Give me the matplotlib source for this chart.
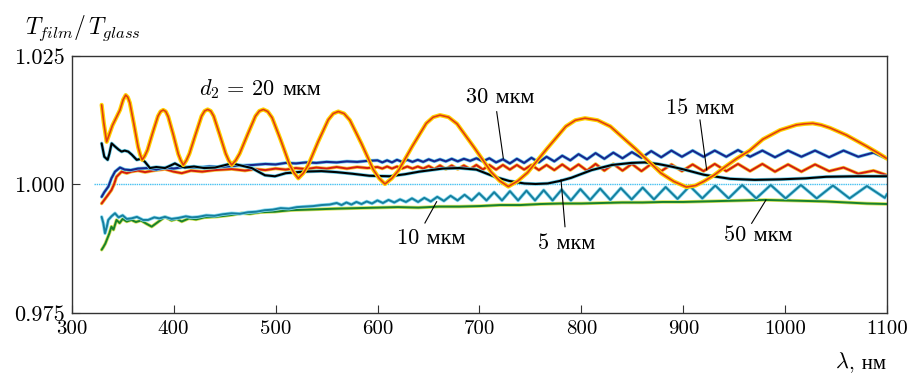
import matplotlib
matplotlib.use("Agg")
import matplotlib.pyplot as plt

plt.rcParams['font.family'] = ['cmr10', 'Liberation Serif', 'DejaVu Serif']
plt.rcParams['mathtext.fontset'] = 'cm'
plt.rcParams['axes.formatter.use_mathtext'] = True

# ---------------- data ----------------
x_ticks = [300, 400, 500, 600, 700, 800, 900, 1000, 1100]
x_tick_labels = ['300', '400', '500', '600', '700', '800', '900', '1000', '1100']
y_ticks = [0.975, 1.000, 1.025]
y_tick_labels = ['0.975', '1.000', '1.025']

baseline_wl = [322, 1100]
baseline_val = [1.0, 1.0]

# d2 = 20 um (orange)
orange_wl = [329.4, 331.5, 334.3, 340, 347.4, 350.5, 353,
             355.0, 357.05, 361.1, 365.15, 367.2, 369.2,
             371.8, 374.35, 379.5, 384.65, 387.2, 389.8,
             392.3, 394.7, 399.65, 404.6, 407.0, 409.5,
             412.5, 415.5, 421.45, 427.4, 430.4, 433.4,
             436.4, 439.3, 445.2, 451.1, 454.0, 457,
             460.9, 464.75, 472.5, 480.25, 484.1, 488,
             492.3, 496.6, 505.15, 513.7, 518.0, 522.3,
             527.2, 532.1, 541.9, 551.7, 556.6, 561.5,
             567.2, 572.95, 584.4, 595.85, 601.6, 607.3,
             614.1, 620.8, 634.3, 647.8, 654.6, 661.3,
             669.7, 678.05, 694.8, 711.55, 719.9, 728.3,
             737.7, 747.1, 765.9, 784.7, 794.1, 803.5,
             815.9, 828.4, 853.25, 878.1, 890.6, 903,
             912, 920, 930, 940, 952, 965, 978, 995, 1011, 1019, 1027, 1035,
             1044, 1060, 1080, 1092, 1100]
orange_val = [1.0155, 1.0120, 1.0083, 1.0115, 1.0145, 1.0165, 1.0174,
              1.0170, 1.0159, 1.0117, 1.0073, 1.0058, 1.0048,
              1.0056, 1.0067, 1.0101, 1.0133, 1.0142, 1.0145,
              1.0142, 1.0132, 1.0097, 1.0059, 1.0047, 1.0038,
              1.0047, 1.0060, 1.0097, 1.0133, 1.0143, 1.0146,
              1.0143, 1.0133, 1.0097, 1.0060, 1.0047, 1.0038,
              1.0047, 1.0060, 1.0097, 1.0133, 1.0143, 1.0146,
              1.0142, 1.0130, 1.0086, 1.0039, 1.0023, 1.0012,
              1.0022, 1.0038, 1.0084, 1.0126, 1.0138, 1.0142,
              1.0138, 1.0125, 1.0079, 1.0029, 1.0012, 1.0001,
              1.0012, 1.0028, 1.0075, 1.0119, 1.0131, 1.0135,
              1.0131, 1.0118, 1.0072, 1.0024, 1.0007, 0.9996,
              1.0007, 1.0023, 1.0069, 1.0113, 1.0125, 1.0129,
              1.0125, 1.0113, 1.0069, 1.0022, 1.0006, 0.9995,
              0.9998, 1.0006, 1.0018, 1.0033, 1.0050, 1.0066, 1.0088, 1.0106, 1.0116,
              1.0118, 1.0119, 1.0116,
              1.0110, 1.0096, 1.0074, 1.0060, 1.0050]

# 5 um (black)
black_wl = [329.4, 332, 335.3, 337, 339.2, 342.5, 346, 349, 352, 355.5, 359, 363.8,
            368, 371.9, 376.8, 383, 391.5, 396, 401.3, 406, 411, 420, 430, 440.6,
            449, 457, 466, 476.6, 483, 489.6, 499.4, 510, 527, 545, 560, 575, 592,
            612, 627, 641, 664, 680, 697, 706, 715, 729, 744, 755, 767, 779, 790,
            810, 830, 849, 862, 875, 888, 901, 920, 946, 970, 995, 1020, 1040,
            1070, 1100]
black_val = [1.0080, 1.0054, 1.0048, 1.0060, 1.0080, 1.0074, 1.0068, 1.0064, 1.0066,
             1.0064, 1.0058, 1.0048, 1.0050, 1.0044, 1.0032, 1.0034, 1.0032, 1.0036,
             1.0041, 1.0036, 1.0033, 1.0035, 1.0032, 1.0033, 1.0037, 1.0041, 1.0037,
             1.0032, 1.0025, 1.0018, 1.0016, 1.0022, 1.0025, 1.0026, 1.0024, 1.0021,
             1.0017, 1.0016, 1.0020, 1.0025, 1.0031, 1.0032, 1.0029, 1.0022, 1.0015,
             1.0007, 1.0002, 1.0001, 1.0002, 1.0007, 1.0013, 1.0028, 1.0038, 1.0042,
             1.0043, 1.0040, 1.0035, 1.0029, 1.0019, 1.0011, 1.0009, 1.0010, 1.0012,
             1.0015, 1.0016, 1.0016]

# shared fringe positions for the 30 um and 15 um curves
fringe_wl = [600, 604.7, 609.4, 614.2, 619.1, 624.1, 629.2, 634.3, 639.5, 644.8,
             650.2, 655.7, 661.3, 667, 672.8, 678.7, 684.7, 690.8, 697, 703.3,
             709.7, 716.3, 723, 729.8, 736.7, 743.8, 751, 758.3, 765.8, 773.4,
             781.2, 789.1, 797.2, 805.5, 813.9, 822.5, 831.3, 840.3, 849.5, 858.9,
             868.5, 878.3, 888.3, 898.6, 909.1, 919.8, 930.8, 942.1, 953.6, 965.4,
             977.5, 989.9, 1002.7, 1015.8, 1029.2, 1043, 1057.1, 1071.6, 1086.5, 1100]

# 30 um (blue)
blue_early_wl = [329.4, 332, 336, 339, 342.5, 347.4, 352, 358, 365, 375, 383, 391.5,
                 400, 410, 424, 435, 446, 457, 468, 478, 490, 500, 510, 520, 530,
                 540, 550, 560, 570, 580, 590]
blue_early_val = [0.9976, 0.9985, 0.9996, 1.0012, 1.0025, 1.0033, 1.0029, 1.0028,
                  1.0031, 1.0032, 1.0029, 1.0033, 1.0031, 1.0034, 1.0033, 1.0035,
                  1.0034, 1.0036, 1.0037, 1.0038, 1.0040, 1.0039, 1.0042, 1.0041,
                  1.0043, 1.0042, 1.0044, 1.0043, 1.0045, 1.0044, 1.0046]
blue_fringe_val = [1.0047, 1.0043, 1.0047, 1.0043, 1.0048, 1.0044, 1.0048, 1.0044,
                   1.0048, 1.0044, 1.0049, 1.0045, 1.0049, 1.0045, 1.0050, 1.0045,
                   1.0050, 1.0046, 1.0051, 1.0045, 1.0051, 1.0043, 1.0049, 1.0041,
                   1.0050, 1.0042, 1.0052, 1.0043, 1.0054, 1.0045, 1.0056, 1.0047,
                   1.0059, 1.0049, 1.0061, 1.0050, 1.0062, 1.0051, 1.0063, 1.0052,
                   1.0065, 1.0053, 1.0066, 1.0054, 1.0066, 1.0054, 1.0066, 1.0054,
                   1.0067, 1.0054, 1.0066, 1.0053, 1.0066, 1.0054, 1.0066, 1.0053,
                   1.0066, 1.0054, 1.0062, 1.0050]

# 15 um (red)
red_early_wl = [329.4, 332, 335, 339, 341.5, 344, 347, 349, 354, 358.6, 365, 372,
                380, 391.5, 400, 408, 417, 428, 440, 457, 470, 480, 490, 500, 510,
                520, 530, 540, 550, 560, 570, 580, 590]
red_early_val = [0.9963, 0.9970, 0.9978, 0.9989, 1.0000, 1.0015, 1.0021, 1.0025,
                 1.0022, 1.0025, 1.0027, 1.0024, 1.0027, 1.0030, 1.0025, 1.0022,
                 1.0027, 1.0025, 1.0028, 1.0030, 1.0027, 1.0030, 1.0028, 1.0031,
                 1.0029, 1.0032, 1.0030, 1.0033, 1.0031, 1.0034, 1.0031, 1.0034,
                 1.0032]
red_fringe_val = [1.0034, 1.0031, 1.0035, 1.0031, 1.0035, 1.0031, 1.0035, 1.0031,
                  1.0035, 1.0031, 1.0036, 1.0030, 1.0037, 1.0030, 1.0037, 1.0030,
                  1.0037, 1.0030, 1.0038, 1.0029, 1.0038, 1.0029, 1.0038, 1.0029,
                  1.0038, 1.0029, 1.0038, 1.0028, 1.0038, 1.0028, 1.0039, 1.0028,
                  1.0039, 1.0027, 1.0040, 1.0027, 1.0040, 1.0027, 1.0040, 1.0026,
                  1.0040, 1.0026, 1.0039, 1.0026, 1.0039, 1.0026, 1.0040, 1.0026,
                  1.0040, 1.0026, 1.0040, 1.0025, 1.0039, 1.0025, 1.0039, 1.0026,
                  1.0033, 1.0021, 1.0027, 1.0018]

# 10 um (teal)
teal_wl = [329.4, 331, 332.7, 334.5, 335.9, 339, 342.5, 346, 350, 354, 358.6, 364,
           370, 375, 381, 386, 391.5, 398, 405, 412, 418, 424.2, 432, 440, 448,
           456.9, 465, 473, 481, 489.6, 497, 505, 513, 521, 529, 537, 545, 553,
           560, 564.7, 569.5, 574.4, 579.3, 584.3, 589.4, 594.6, 599.9, 605.3,
           610.8, 616.4, 622.1, 627.9, 633.8, 639.8, 645.9, 652.2, 658.6, 665.1,
           671.7, 678.5, 685.4, 692.4, 699.6, 706.9, 714.4, 722.1, 729.9, 737.9,
           746.1, 754.5, 763, 771.7, 780.6, 789.7, 799, 808.6, 818.4, 828.4,
           838.7, 849.3, 860.1, 871.2, 882.6, 894.3, 906.3, 918.6, 931.3, 944.3,
           957.7, 971.5, 985.7, 1000.3, 1015.3, 1030.8, 1046.7, 1063.1, 1080.1,
           1097.6, 1100]
teal_val = [0.9937, 0.9925, 0.9905, 0.9918, 0.9931, 0.9938, 0.9944, 0.9936, 0.9940,
            0.9933, 0.9934, 0.9937, 0.9931, 0.9931, 0.9936, 0.9934, 0.9937, 0.9933,
            0.9935, 0.9938, 0.9936, 0.9937, 0.9940, 0.9939, 0.9942, 0.9944, 0.9943,
            0.9946, 0.9947, 0.9950, 0.9951, 0.9954, 0.9953, 0.9956, 0.9957, 0.9958,
            0.9960, 0.9961,
            0.9964, 0.9960, 0.9965, 0.9961, 0.9966, 0.9962, 0.9967, 0.9963, 0.9969,
            0.9964, 0.9970, 0.9965, 0.9971, 0.9966, 0.9973, 0.9966, 0.9974, 0.9967,
            0.9976, 0.9968, 0.9978, 0.9969, 0.9980, 0.9969, 0.9983, 0.9969, 0.9985,
            0.9969, 0.9987, 0.9969, 0.9988, 0.9969, 0.9989, 0.9969, 0.9990, 0.9969,
            0.9991, 0.9970, 0.9992, 0.9970, 0.9993, 0.9971, 0.9994, 0.9971, 0.9995,
            0.9972, 0.9997, 0.9973, 0.9998, 0.9973, 0.9999, 0.9973, 0.9999, 0.9973,
            0.9999, 0.9973, 0.9998, 0.9973, 0.9997, 0.9974, 0.9982]

# 50 um (green)
green_wl = [329.4, 331, 333, 335, 337, 339, 341, 344, 347, 350, 354, 358.6, 363, 368,
            373, 378.5, 384, 391.5, 398, 403, 408, 415, 422, 430, 440.6, 450, 458,
            466.7, 475, 485, 499.4, 515, 530, 545, 560, 580, 600, 620, 640, 660, 680,
            700, 720, 740, 760, 780, 800, 820, 840, 860, 880, 900, 920, 940, 960,
            980, 1000, 1020, 1040, 1060, 1080, 1100]
green_val = [0.9873, 0.9878, 0.9885, 0.9895, 0.9905, 0.9918, 0.9912, 0.9931, 0.9925,
             0.9933, 0.9928, 0.9931, 0.9927, 0.9930, 0.9924, 0.9918, 0.9926, 0.9937,
             0.9930, 0.9933, 0.9928, 0.9934, 0.9932, 0.9936, 0.9937, 0.9939, 0.9941,
             0.9944, 0.9943, 0.9946, 0.9947, 0.9950, 0.9951, 0.9952, 0.9953, 0.9954,
             0.9955, 0.9956, 0.9955, 0.9957, 0.9957, 0.9958, 0.9960, 0.9960, 0.9962,
             0.9963, 0.9963, 0.9964, 0.9965, 0.9965, 0.9966, 0.9966, 0.9967, 0.9968,
             0.9969, 0.9970, 0.9969, 0.9968, 0.9967, 0.9965, 0.9963, 0.9962]

label_texts = ['30 мкм', '15 мкм', '10 мкм', '5 мкм', '50 мкм']
d2_math = r'$d_2\,=\,20$'
d2_unit = 'мкм'
xlabel_math = r'$\lambda$'
xlabel_unit = ', нм'
ylabel_math = r'$T_{film}/\,T_{glass}$'

# ---------------- layout / style ----------------
label_pos = [(720.1, 1.0170), (916.3, 1.0149),
             (652.4, 0.98959), (785.8, 0.98862), (973.2, 0.99018)]
pointer_segments = [((716.9, 1.01416), (723.4, 1.0051)),
                    ((916.3, 1.01255), (922.9, 1.00282)),
                    ((646.5, 0.99251), (658.0, 0.99665)),
                    ((783.9, 0.99179), (780.0, 1.00088)),
                    ((967.0, 0.99245), (981.0, 0.99698))]

fig = plt.figure(figsize=(9.13, 3.79), dpi=100)
ax = fig.add_axes([0.0785, 0.1742, 0.8933, 0.678])

ax.plot(baseline_wl, baseline_val, color='#45C0F0', lw=1.0,
        linestyle=(0, (1.0, 0.6)), zorder=1)

# (x, y, main colour, halo colour, main width, halo width)
series = [
    (green_wl, green_val, '#17812C', '#D4E25A', 1.4, 2.5),
    (teal_wl, teal_val, '#167F9E', '#8ADCF2', 1.4, 2.5),
    (red_early_wl + fringe_wl, red_early_val + red_fringe_val, '#D41C0E', '#F7C53A', 1.4, 2.5),
    (blue_early_wl + fringe_wl, blue_early_val + blue_fringe_val, '#18268C', '#70CCEE', 1.5, 2.5),
    (black_wl, black_val, '#000000', '#66CCE8', 1.5, 2.5),
    (orange_wl, orange_val, '#E03C12', '#FFD200', 1.2, 3.0),
]
z = 2
for wl, val, col, halo, lw_main, lw_halo in series:
    ax.plot(wl, val, color=halo, lw=lw_halo, solid_joinstyle='round',
            solid_capstyle='round', zorder=z)
    ax.plot(wl, val, color=col, lw=lw_main, solid_joinstyle='round',
            solid_capstyle='round', zorder=z + 0.5)
    z += 1

fs_lab = 16
for txt, pos, seg in zip(label_texts, label_pos, pointer_segments):
    ax.text(pos[0], pos[1], txt, ha='center', va='center', fontsize=fs_lab, zorder=20)
    ax.plot([seg[0][0], seg[1][0]], [seg[0][1], seg[1][1]], color='black',
            lw=0.8, zorder=19)

ax.text(499.4, 1.01741, d2_math, ha='right', va='baseline', fontsize=fs_lab, zorder=20)
ax.text(506.5, 1.01741, d2_unit, ha='left', va='baseline', fontsize=fs_lab, zorder=20)

ax.set_xlim(300, 1100)
ax.set_ylim(0.975, 1.025)
ax.set_xticks(x_ticks)
ax.set_xticklabels(x_tick_labels)
ax.set_yticks(y_ticks)
ax.set_yticklabels(y_tick_labels)
ax.tick_params(axis='x', labelsize=15)
ax.tick_params(axis='y', labelsize=16)
ax.tick_params(direction='in', length=6, width=0.8, pad=5, color='#333333')
for s in ax.spines.values():
    s.set_linewidth(1.0)
    s.set_color('#333333')

fig.text(0.027, 0.925, ylabel_math, fontsize=17, ha='left', va='center')
fig.text(0.930, 0.029, xlabel_math, fontsize=16, ha='right', va='baseline')
fig.text(0.930, 0.029, xlabel_unit, fontsize=15, ha='left', va='baseline')

fig.savefig('out.png', dpi=100)
